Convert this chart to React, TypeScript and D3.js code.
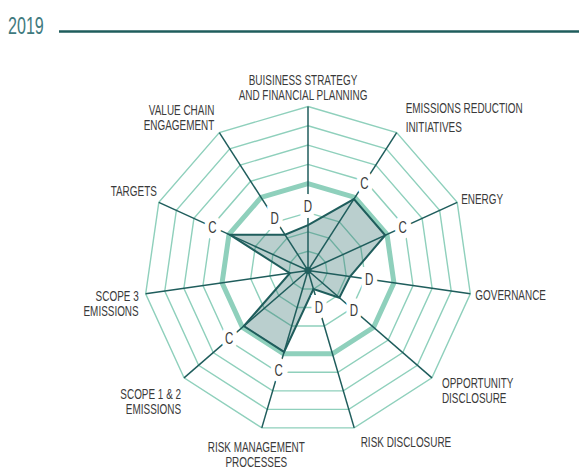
import { useEffect, useRef } from "react";
import * as d3 from "d3";

// axis names, one entry per spoke, clockwise from the top
const categories = [
  ["BUISINESS STRATEGY", "AND FINANCIAL PLANNING"],
  ["EMISSIONS REDUCTION", "INITIATIVES"],
  ["ENERGY"],
  ["GOVERNANCE"],
  ["OPPORTUNITY", "DISCLOSURE"],
  ["RISK DISCLOSURE"],
  ["RISK MANAGEMENT", "PROCESSES"],
  ["SCOPE 1 & 2", "EMISSIONS"],
  ["SCOPE 3", "EMISSIONS"],
  ["TARGETS"],
  ["VALUE CHAIN", "ENGAGEMENT"],
];

// score on the grade scale
const scores = [2.35, 4.4, 4.4, 2.2, 2.15, 1.0, 4.4, 4.4, 0.95, 4.45, 2.2];
const grades = ["D", "C", "C", "D", "D", "D", "C", "C", "", "C", "D"];

// grid rings, the C ring is drawn heavier
const ringLevels = [1, 2, 3, 4.5, 5.5, 6.5, 7.5, 8.5];
const highlightLevel = 4.5;
const maxLevel = 8.5;

const year = "2019";

const CX = 308;
const CY = 270.5;
const RADIUS = 164;

const FONT = "'Liberation Sans', Arial, sans-serif";
const NARROW = 0.72; // the original face is a condensed one
const DARK = "#1f5d5c";
const GRID = "#8fd0bc";
const TEXT = "#3a3a3a";

// where each category label sits relative to the end of its spoke
const labelLayout = [
  { dx: -5, dy: -21.5, anchor: "middle", lh: 15 },
  { dx: 9, dy: -19.5, anchor: "start", lh: 18.6 },
  { dx: 4, dy: 2, anchor: "start", lh: 15 },
  { dx: 5, dy: 6.5, anchor: "start", lh: 15 },
  { dx: 10, dy: 10, anchor: "start", lh: 15 },
  { dx: 6.5, dy: 19, anchor: "start", lh: 15 },
  { dx: -5.5, dy: 24, anchor: "middle", lh: 15 },
  { dx: -3, dy: 21, anchor: "end", lh: 15 },
  { dx: -7, dy: 7, anchor: "end", lh: 15.6 },
  { dx: -2, dy: -6, anchor: "end", lh: 15 },
  { dx: -5, dy: -18, anchor: "end", lh: 15 },
];

const RadarChart = () => {
  const svgRef = useRef<SVGSVGElement | null>(null);

  useEffect(() => {
    const n = categories.length;
    const svg = d3.select(svgRef.current);
    svg.selectAll("*").remove();

    const angle = d3.scaleLinear().domain([0, n]).range([0, 2 * Math.PI]);
    const r = d3.scaleLinear().domain([0, maxLevel]).range([0, RADIUS]);

    const px = (i: number, rad: number) => rad * Math.sin(angle(i));
    const py = (i: number, rad: number) => -rad * Math.cos(angle(i));

    const radial = d3
      .lineRadial<number>()
      .angle((_, i) => angle(i))
      .radius((d) => r(d))
      .curve(d3.curveLinearClosed);

    // header
    svg
      .append("text")
      .text(year)
      .attr("transform", `translate(8,33.5) scale(0.7,1)`)
      .attr("font-family", FONT)
      .attr("font-size", 23)
      .attr("fill", "#3f7a7e");

    svg
      .append("line")
      .attr("x1", 59)
      .attr("x2", 579)
      .attr("y1", 31.5)
      .attr("y2", 31.5)
      .attr("stroke", DARK)
      .attr("stroke-width", 2.5);

    const g = svg.append("g").attr("transform", `translate(${CX},${CY})`);

    g.selectAll(".ring")
      .data(ringLevels)
      .join("path")
      .attr("class", "ring")
      .attr("d", (lvl) => radial(categories.map(() => lvl)))
      .attr("fill", "none")
      .attr("stroke", GRID)
      .attr("stroke-width", (lvl) => (lvl === highlightLevel ? 5 : 1.4))
      .attr("stroke-linejoin", "miter");

    g.append("path")
      .attr("d", radial(scores))
      .attr("fill", "#2d6e6a")
      .attr("fill-opacity", 0.33);

    g.selectAll(".spoke")
      .data(categories)
      .join("line")
      .attr("class", "spoke")
      .attr("x1", 0)
      .attr("y1", 0)
      .attr("x2", (_, i) => px(i, RADIUS))
      .attr("y2", (_, i) => py(i, RADIUS))
      .attr("stroke", DARK)
      .attr("stroke-width", 1.5);

    g.append("path")
      .attr("d", radial(scores))
      .attr("fill", "none")
      .attr("stroke", DARK)
      .attr("stroke-width", 2)
      .attr("stroke-linejoin", "miter");

    g.append("circle").attr("r", 3.5).attr("fill", DARK);

    // grade letters, knocked out of the grid
    const gradeOffset = r(1);
    const gradeData = scores
      .map((score, i) => ({ score, i, grade: grades[i] }))
      .filter((d) => d.grade !== "");

    g.selectAll(".grade")
      .data(gradeData)
      .join("text")
      .attr("class", "grade")
      .text((d) => d.grade)
      .attr(
        "transform",
        (d) =>
          `translate(${px(d.i, r(d.score) + gradeOffset)},${py(d.i, r(d.score) + gradeOffset)}) scale(${NARROW},1)`
      )
      .attr("text-anchor", "middle")
      .attr("dominant-baseline", "central")
      .attr("font-family", FONT)
      .attr("font-size", 16)
      .attr("fill", TEXT)
      .attr("stroke", "#fff")
      .attr("stroke-width", 12)
      .attr("paint-order", "stroke");

    // category labels
    const labels = g
      .selectAll(".cat")
      .data(categories)
      .join("text")
      .attr("class", "cat")
      .attr(
        "transform",
        (_, i) =>
          `translate(${px(i, RADIUS) + labelLayout[i].dx},${py(i, RADIUS) + labelLayout[i].dy}) scale(${NARROW},1)`
      )
      .attr("font-family", FONT)
      .attr("font-size", 13.8)
      .attr("fill", TEXT)
      .attr("text-anchor", (_, i) => labelLayout[i].anchor);

    labels
      .selectAll("tspan")
      .data((lines, i) => lines.map((line, k) => ({ line, k, i })))
      .join("tspan")
      .text((d) => d.line)
      .attr("x", 0)
      .attr("y", (d) => d.k * labelLayout[d.i].lh);
  }, []);

  return (
    <svg
      ref={svgRef}
      width={579}
      height={469}
      style={{ position: "absolute", left: 0, top: 0, display: "block", background: "#fff" }}
    />
  );
};

export default function App() {
  return <RadarChart />;
}
